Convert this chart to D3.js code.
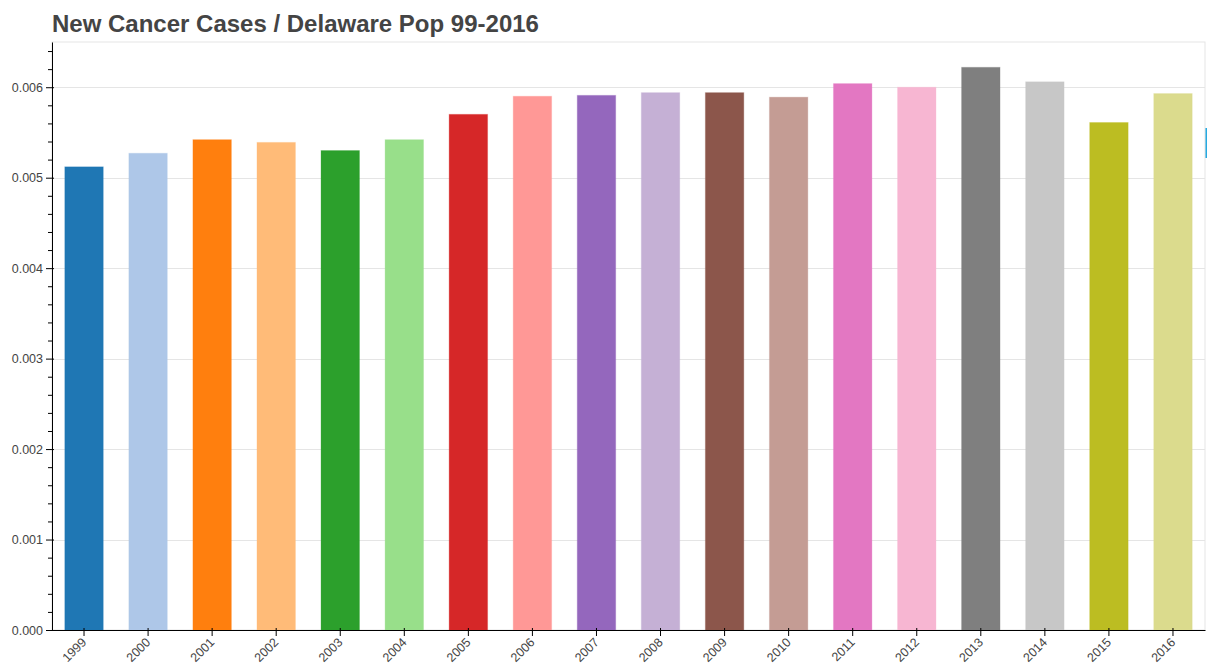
<!DOCTYPE html>
<html>
<head>
<meta charset="utf-8">
<script src="https://cdn.jsdelivr.net/npm/d3@7"></script>
<style>
  body { margin: 0; background: #fff; }
  svg { display: block; }
</style>
</head>
<body>
<div class="chart"></div>
<script>
const years = ['1999','2000','2001','2002','2003','2004','2005','2006','2007','2008',
               '2009','2010','2011','2012','2013','2014','2015','2016']
const rates = [0.00512, 0.00527, 0.00542, 0.00539, 0.00530, 0.00542, 0.00570, 0.00590, 0.00591, 0.00594,
               0.00594, 0.00589, 0.00604, 0.00600, 0.00622, 0.00606, 0.00561, 0.00593]
const colors = ['#1f77b4','#aec7e8','#ff7f0e','#ffbb78','#2ca02c','#98df8a','#d62728','#ff9896','#9467bd',
                '#c5b0d5','#8c564b','#c49c94','#e377c2','#f7b6d2','#7f7f7f','#c7c7c7','#bcbd22','#dbdb8d']
const yTicks = [0, 0.001, 0.002, 0.003, 0.004, 0.005, 0.006]
const title = 'New Cancer Cases / Delaware Pop 99-2016'

const data = years.map((y, i) => ({year: y, rate: rates[i], color: colors[i]}))

const margin = ({top: 42, right: 2, bottom: 35, left: 52})
const width = 1207 - margin.left - margin.right
const height = 665 - margin.top - margin.bottom

const root = d3.select('.chart').append('svg')
    .attr('width', 1207)
    .attr('height', 665)

root.append('text')
    .attr('x', 52)
    .attr('y', 32)
    .attr('font-family', 'Liberation Sans, Arial, sans-serif')
    .attr('font-size', 24)
    .attr('font-weight', 'bold')
    .attr('fill', '#444')
    .text(title)

// toolbar edge on the right
root.append('rect')
    .attr('x', 1205).attr('y', 128)
    .attr('width', 2).attr('height', 30)
    .attr('fill', '#26aae1')

const svg = root.append('g')
    .attr('transform', `translate(${margin.left},${margin.top})`)

// SCALES
const xScale = d3.scaleBand()
    .domain(years)
    .range([0, width])
    .padding(0)

const yScale = d3.scaleLinear()
    .domain([0, 0.0065])
    .range([height, 0])

// outline + grid
svg.append('rect')
    .attr('width', width).attr('height', height)
    .attr('fill', 'none')
    .attr('stroke', '#e5e5e5')

svg.append('g')
    .selectAll('line')
    .data(yTicks.slice(1))
    .join('line')
    .attr('x1', 0).attr('x2', width)
    .attr('y1', d => Math.round(yScale(d)) + 0.5)
    .attr('y2', d => Math.round(yScale(d)) + 0.5)
    .attr('stroke', '#e5e5e5')

// BARS
const bw = xScale.bandwidth() * 0.6
svg.append('g')
    .selectAll('rect')
    .data(data)
    .join('rect')
    .attr('x', d => xScale(d.year) + (xScale.bandwidth() - bw) / 2)
    .attr('y', d => yScale(d.rate))
    .attr('width', bw)
    .attr('height', d => height - yScale(d.rate))
    .attr('fill', d => d.color)
    .attr('stroke', d => d.color)
    .attr('stroke-opacity', 0.3)

// AXES
const minor = d3.range(0, 0.00651, 0.0002).filter(v => Math.abs(v * 1000 - Math.round(v * 1000)) > 1e-6)

svg.append('g')
    .call(d3.axisLeft(yScale).tickValues(minor).tickSize(4).tickFormat('').tickSizeOuter(0))
    .call(g => g.select('.domain').remove())

const yAx = svg.append('g')
    .call(d3.axisLeft(yScale).tickValues(yTicks).tickFormat(d3.format('.3f')).tickSize(6).tickSizeOuter(0))
yAx.selectAll('.tick line').attr('x1', 2)
yAx.selectAll('text')
    .attr('font-family', 'Liberation Sans, Arial, sans-serif')
    .attr('font-size', 12.5)
    .attr('fill', '#444')

const xAx = svg.append('g')
    .attr('transform', `translate(0,${height})`)
    .call(d3.axisBottom(xScale).tickSize(6).tickSizeOuter(0))
xAx.selectAll('.tick line').attr('y1', -2)
xAx.selectAll('text')
    .attr('font-family', 'Liberation Sans, Arial, sans-serif')
    .attr('font-size', 12.5)
    .attr('fill', '#444')
    .attr('text-anchor', 'end')
    .attr('x', 0).attr('y', 0).attr('dy', '0.35em')
    .attr('transform', 'translate(0,10) rotate(-45)')
</script>
</body>
</html>
